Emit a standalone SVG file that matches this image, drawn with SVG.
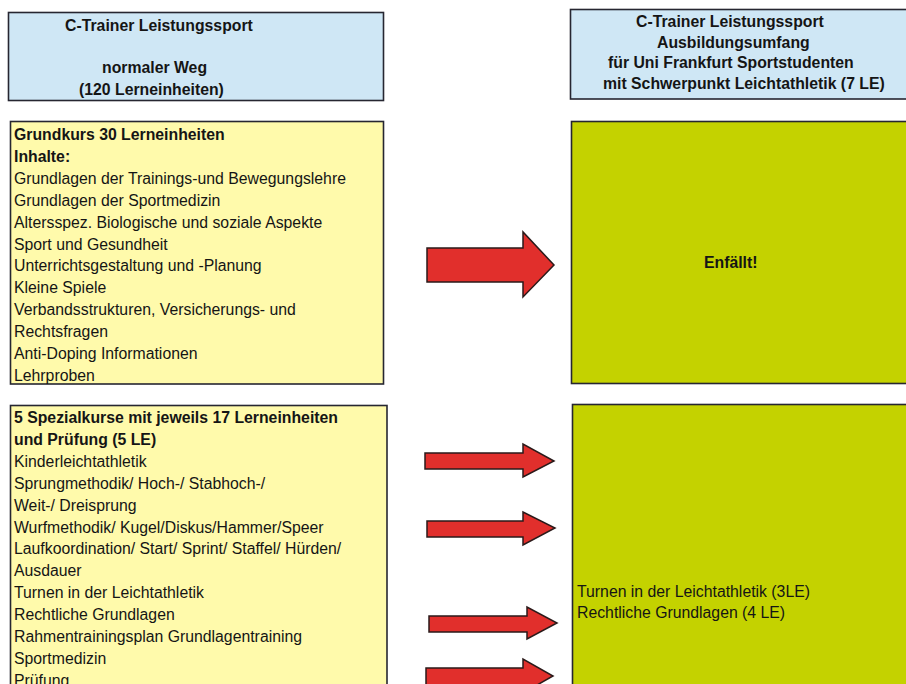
<svg xmlns="http://www.w3.org/2000/svg" width="906" height="684" viewBox="0 0 906 684">
<style>
.hdr{fill:#cfe7f5;stroke:#262631;stroke-width:1.6}
.yel{fill:#fffaab;stroke:#262631;stroke-width:1.6}
.grn{fill:#c4d200;stroke:#262631;stroke-width:1.6}
.arr{fill:#e12f2c;stroke:#2a1a1a;stroke-width:1.5;stroke-linejoin:miter}
text{font-family:"Liberation Sans",Arial,sans-serif;font-size:15.8px;fill:#151515}
.b{font-weight:bold}
</style>
<rect width="906" height="684" fill="#ffffff"/>
<g id="header-left">
<rect class="hdr" x="8.5" y="12.5" width="375" height="88"/>
<text class="b" x="65" y="31">C-Trainer Leistungssport</text>
<text class="b" x="102" y="73">normaler Weg</text>
<text class="b" x="79" y="94.5">(120 Lerneinheiten)</text>
</g>
<g id="header-right">
<rect class="hdr" x="570.5" y="9.5" width="345" height="89.5"/>
<text class="b" x="636" y="26.5">C-Trainer Leistungssport</text>
<text class="b" x="657" y="47.5">Ausbildungsumfang</text>
<text class="b" x="608" y="68">für Uni Frankfurt Sportstudenten</text>
<text class="b" x="603" y="88.5">mit Schwerpunkt Leichtathletik (7 LE)</text>
</g>
<g id="grundkurs">
<rect class="yel" x="10.5" y="121.5" width="373" height="262.5"/>
<text class="b" x="14" y="140">Grundkurs 30 Lerneinheiten</text>
<text class="b" x="14" y="161.9">Inhalte:</text>
<text x="14" y="183.8">Grundlagen der Trainings-und Bewegungslehre</text>
<text x="14" y="205.7">Grundlagen der Sportmedizin</text>
<text x="14" y="227.6">Altersspez. Biologische und soziale Aspekte</text>
<text x="14" y="249.5">Sport und Gesundheit</text>
<text x="14" y="271.4">Unterrichtsgestaltung und -Planung</text>
<text x="14" y="293.3">Kleine Spiele</text>
<text x="14" y="315.2">Verbandsstrukturen, Versicherungs- und</text>
<text x="14" y="337.1">Rechtsfragen</text>
<text x="14" y="359">Anti-Doping Informationen</text>
<text x="14" y="380.9">Lehrproben</text>
</g>
<g id="spezialkurse">
<rect class="yel" x="10.5" y="405.5" width="376.5" height="300"/>
<text class="b" x="14" y="423">5 Spezialkurse mit jeweils 17 Lerneinheiten</text>
<text class="b" x="14" y="444.9">und Prüfung (5 LE)</text>
<text x="14" y="466.8">Kinderleichtathletik</text>
<text x="14" y="488.7">Sprungmethodik/ Hoch-/ Stabhoch-/</text>
<text x="14" y="510.6">Weit-/ Dreisprung</text>
<text x="14" y="532.5">Wurfmethodik/ Kugel/Diskus/Hammer/Speer</text>
<text x="14" y="554.4">Laufkoordination/ Start/ Sprint/ Staffel/ Hürden/</text>
<text x="14" y="576.3">Ausdauer</text>
<text x="14" y="598.2">Turnen in der Leichtathletik</text>
<text x="14" y="620.1">Rechtliche Grundlagen</text>
<text x="14" y="642">Rahmentrainingsplan Grundlagentraining</text>
<text x="14" y="663.9">Sportmedizin</text>
<text x="14" y="685.8">Prüfung</text>
</g>
<g id="entfaellt">
<rect class="grn" x="571.5" y="121.5" width="345" height="262"/>
<text class="b" x="704" y="267.5">Enfällt!</text>
</g>
<g id="anrechnung">
<rect class="grn" x="572.5" y="404.5" width="345" height="300"/>
<text x="577" y="596.5">Turnen in der Leichtathletik (3LE)</text>
<text x="577" y="617.5">Rechtliche Grundlagen (4 LE)</text>
</g>
<g id="connectors">
<polygon class="arr" points="427,248 523,248 523,232 554,265 523,297 523,282 427,282"/>
<polygon class="arr" points="425,453 523,453 523,444 554,461 523,477 523,469 425,469"/>
<polygon class="arr" points="427,521 523,521 523,512 555,528 523,545 523,537 427,537"/>
<polygon class="arr" points="429,616 527,616 527,607 557,623 527,639 527,632 429,632"/>
<polygon class="arr" points="426,668 523,668 523,659 553,676 523,693 523,685 426,685"/>
</g>
</svg>
